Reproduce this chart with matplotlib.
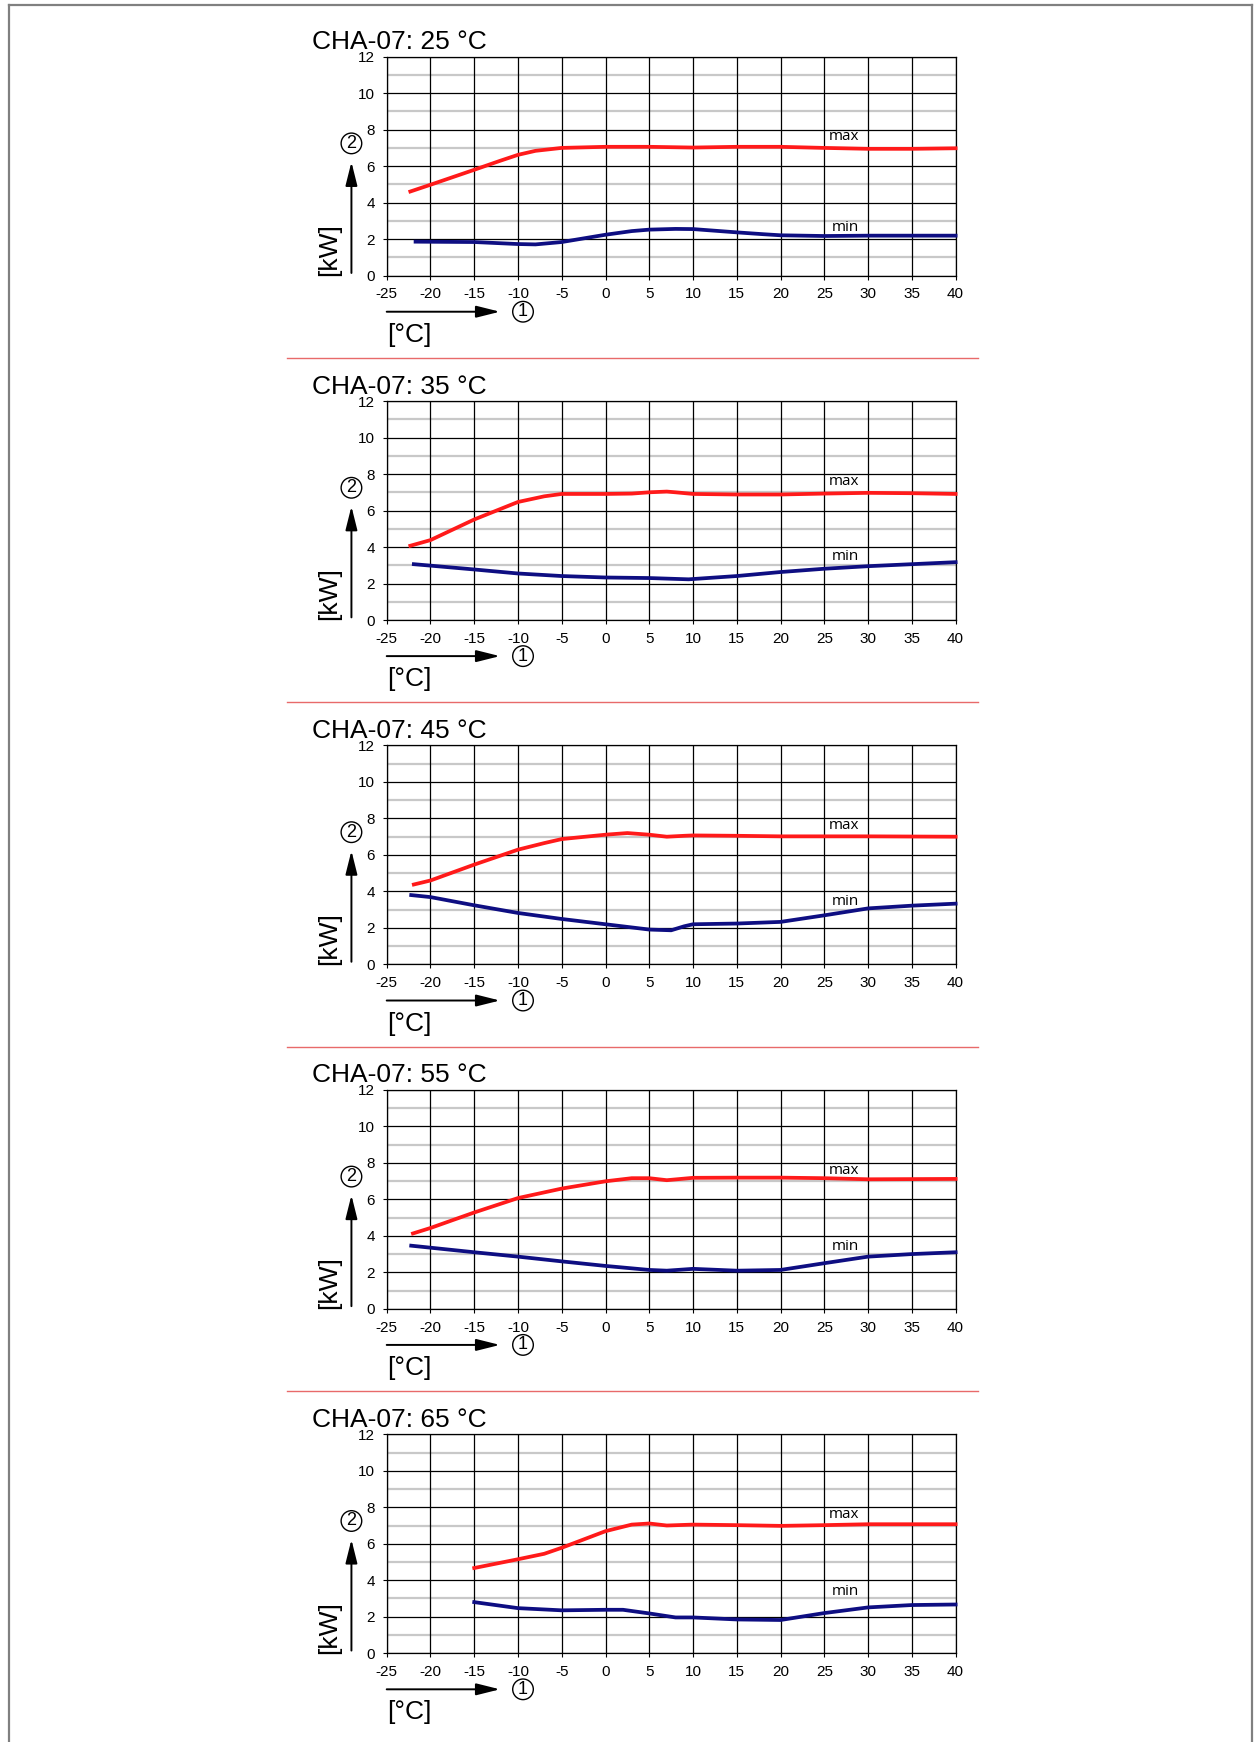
import numpy as np
import matplotlib
matplotlib.use('Agg')
import matplotlib.pyplot as plt
from matplotlib.lines import Line2D
from matplotlib.patches import FancyArrowPatch

# water outlet temperatures (one panel each)
titles = ['CHA-07: 25 °C', 'CHA-07: 35 °C', 'CHA-07: 45 °C', 'CHA-07: 55 °C', 'CHA-07: 65 °C']

# 25 °C
max25_x = [-22.3, -20, -15, -12, -10, -8, -5, 0, 5, 10, 15, 20, 25, 30, 35, 40]
max25_y = [4.61, 4.98, 5.80, 6.30, 6.62, 6.84, 7.00, 7.06, 7.06, 7.02, 7.06, 7.06, 7.00, 6.95, 6.95, 6.98]
min25_x = [-21.7, -15, -10, -8, -5, -2, 0, 3, 5, 8, 10, 15, 18, 20, 25, 30, 40]
min25_y = [1.86, 1.84, 1.73, 1.71, 1.84, 2.08, 2.24, 2.44, 2.52, 2.56, 2.55, 2.37, 2.27, 2.21, 2.17, 2.19, 2.19]

# 35 °C
max35_x = [-22.3, -20, -15, -10, -7, -5, 0, 3, 5, 7, 8, 10, 15, 20, 25, 30, 35, 40]
max35_y = [4.07, 4.38, 5.51, 6.47, 6.78, 6.91, 6.91, 6.93, 7.00, 7.04, 7.00, 6.91, 6.88, 6.88, 6.93, 6.97, 6.95, 6.91]
min35_x = [-21.9, -15, -10, -5, 0, 5, 9.5, 15, 20, 25, 30, 35, 40]
min35_y = [3.06, 2.77, 2.55, 2.41, 2.33, 2.30, 2.23, 2.41, 2.63, 2.81, 2.95, 3.06, 3.17]

# 45 °C
max45_x = [-21.9, -20, -15, -10, -7, -5, 0, 2.5, 5, 7, 9, 10, 15, 20, 30, 40]
max45_y = [4.38, 4.60, 5.47, 6.29, 6.65, 6.87, 7.11, 7.20, 7.11, 7.00, 7.05, 7.07, 7.05, 7.02, 7.02, 7.00]
min45_x = [-22.2, -20, -15, -10, -5, 0, 5, 7.5, 9, 10, 15, 20, 25, 30, 35, 40]
min45_y = [3.80, 3.69, 3.24, 2.82, 2.49, 2.20, 1.91, 1.87, 2.09, 2.20, 2.24, 2.33, 2.69, 3.07, 3.22, 3.33]

# 55 °C
max55_x = [-22.0, -20, -15, -10, -5, 0, 3, 5, 7, 10, 15, 20, 25, 30, 40]
max55_y = [4.13, 4.43, 5.28, 6.07, 6.59, 6.99, 7.16, 7.16, 7.05, 7.18, 7.19, 7.19, 7.16, 7.10, 7.12]
min55_x = [-22.2, -15, -10, -5, 0, 5, 7, 10, 15, 20, 25, 30, 35, 40]
min55_y = [3.46, 3.10, 2.86, 2.60, 2.35, 2.13, 2.09, 2.19, 2.09, 2.13, 2.50, 2.86, 3.00, 3.10]

# 65 °C
max65_x = [-15, -10, -7, -5, 0, 3, 5, 7, 10, 15, 20, 25, 30, 40]
max65_y = [4.67, 5.15, 5.45, 5.78, 6.69, 7.05, 7.11, 7.00, 7.05, 7.02, 6.98, 7.02, 7.07, 7.07]
min65_x = [-15, -10, -5, 0, 2, 5, 8, 10, 15, 20, 25, 30, 35, 40]
min65_y = [2.80, 2.47, 2.35, 2.38, 2.38, 2.18, 1.96, 1.96, 1.85, 1.82, 2.20, 2.51, 2.64, 2.67]

x_ticks = np.arange(-25, 41, 5)
y_ticks = np.arange(0, 13, 2)

panels = [
    (max25_x, max25_y, min25_x, min25_y),
    (max35_x, max35_y, min35_x, min35_y),
    (max45_x, max45_y, min45_x, min45_y),
    (max55_x, max55_y, min55_x, min55_y),
    (max65_x, max65_y, min65_x, min65_y),
]
# where the "max"/"min" tags sit (x, y in data units)
max_tag = [(27.3, 7.6)] * 5
min_tag = [(27.4, 2.62), (27.4, 3.47), (27.4, 3.45), (27.4, 3.4), (27.4, 3.4)]

plt.rcParams['font.family'] = ['Liberation Sans', 'DejaVu Sans']

W, H = 1260, 1742
fig = plt.figure(figsize=(W / 100, H / 100), dpi=100)

# outer grey frame (left, top, right)
for xs, ys in [([9 / W, 9 / W], [0, 1 - 5.5 / H]),
               ([9 / W, 1252 / W], [1 - 5.5 / H, 1 - 5.5 / H]),
               ([1252 / W, 1252 / W], [0, 1 - 5.5 / H])]:
    fig.add_artist(Line2D(xs, ys, color='#808080', lw=1.6, transform=fig.transFigure))

ax_left, ax_w = 386.7, 568.9
ax_h = 218.9
step = 344.4

red = '#ff1a1a'
navy = '#0e0e82'


def arrow(ax, p0, p1):
    a = FancyArrowPatch(p0, p1, transform=ax.transAxes, clip_on=False,
                        arrowstyle='-|>,head_width=0.2,head_length=0.8', mutation_scale=18,
                        color='black', lw=1.4, shrinkA=0, shrinkB=0)
    ax.add_patch(a)


def circled(ax, x, y, s):
    ax.text(x, y, s, transform=ax.transAxes, fontsize=13, ha='center', va='center',
            bbox=dict(boxstyle='circle,pad=0.1', fc='white', ec='black', lw=1.0))


for k, (mx, my, nx, ny) in enumerate(panels):
    top = 56.7 + k * step
    ax = fig.add_axes([ax_left / W, 1 - (top + ax_h) / H, ax_w / W, ax_h / H])
    ax.set_xlim(-25, 40)
    ax.set_ylim(0, 12)
    ax.set_xticks(x_ticks)
    ax.set_yticks(y_ticks)
    ax.set_xticklabels([str(v) for v in x_ticks], fontsize=11)
    ax.set_yticklabels([str(v) for v in y_ticks], fontsize=11)
    ax.tick_params(axis='x', length=3, width=0.8, pad=5.5)
    ax.tick_params(axis='y', length=3, width=0.8, pad=5.5)
    for y in np.arange(1, 12, 2):
        ax.axhline(y, color='#c8c8c8', lw=1.6, zorder=1)
    for y in y_ticks:
        ax.axhline(y, color='black', lw=0.9, zorder=1.5)
    for x in x_ticks:
        ax.axvline(x, color='black', lw=0.9, zorder=1.5)
    for s in ax.spines.values():
        s.set_color('black')
        s.set_linewidth(0.9)

    ax.plot(mx, my, color=red, lw=2.7, solid_joinstyle='round', zorder=3, clip_on=False)
    ax.plot(nx, ny, color=navy, lw=2.7, solid_joinstyle='round', zorder=3, clip_on=False)
    ax.text(*max_tag[k], 'max', fontsize=11, fontfamily='Open Sans', ha='center', va='center', zorder=4)
    ax.text(*min_tag[k], 'min', fontsize=11, fontfamily='Open Sans', ha='center', va='center', zorder=4)

    # title
    ax.text(-0.131, 1.034, titles[k], transform=ax.transAxes, fontsize=19, ha='left', va='baseline')

    # x axis annotation
    arrow(ax, (0.0, -0.165), (0.199, -0.165))
    circled(ax, 0.2396, -0.165, '1')
    ax.text(0.0, -0.27, '[°C]', transform=ax.transAxes, fontsize=19, ha='left', va='center')

    # y axis annotation
    arrow(ax, (-0.062, 0.012), (-0.062, 0.519))
    circled(ax, -0.062, 0.604, '2')
    ax.text(-0.1014, 0.119, '[kW]', transform=ax.transAxes, fontsize=19, rotation=90,
            ha='center', va='center')

    # red separator under the panel
    if k < 4:
        sep_y = 357.8 + k * step
        fig.add_artist(Line2D([286.7 / W, 977.8 / W], [1 - sep_y / H, 1 - sep_y / H],
                              color='#e86a6a', lw=1.0, transform=fig.transFigure))

fig.savefig('out.png', dpi=100)
